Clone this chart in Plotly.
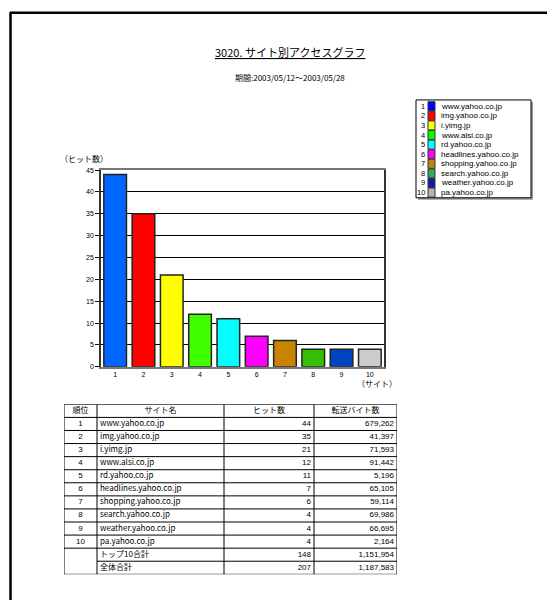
import plotly.graph_objects as go

# ---------------- data ----------------
ranks = ["1", "2", "3", "4", "5", "6", "7", "8", "9", "10"]
sites = ["www.yahoo.co.jp", "img.yahoo.co.jp", "i.yimg.jp", "www.alsi.co.jp",
         "rd.yahoo.co.jp", "headlines.yahoo.co.jp", "shopping.yahoo.co.jp",
         "search.yahoo.co.jp", "weather.yahoo.co.jp", "pa.yahoo.co.jp"]
hits = [44, 35, 21, 12, 11, 7, 6, 4, 4, 4]
bytes_sent = [679262, 41397, 71593, 91442, 5196, 65105, 59114, 69986, 66695, 2164]
total_labels = ["トップ10合計", "全体合計"]
total_hits = [148, 207]
total_bytes = [1151954, 1187583]
table_headers = ["順位", "サイト名", "ヒット数", "転送バイト数"]
y_ticks = [0, 5, 10, 15, 20, 25, 30, 35, 40, 45]

bar_colors = ["#0066FF", "#FF0000", "#FFFF00", "#40FF00", "#00FFFF",
              "#FF00FF", "#C88400", "#33C000", "#0044C0", "#CCCCCC"]
legend_colors = ["#0000FF", "#FF0000", "#FFFF00", "#00FF00", "#00FFFF",
                 "#FF00FF", "#B8860B", "#33AA55", "#1A1AAA", "#B4B4B4"]

# page is drawn inside the browser's default 8px body margin
OFF = 8
W, H = 555 - OFF, 603 - OFF
def px(x):
    return (x - OFF) / W
def py(y):
    return 1 - (y - OFF) / H

FONT = "Noto Sans CJK JP"
NUMFONT = "Liberation Sans"

fig = go.Figure()

# ---------------- bar chart ----------------
fig.add_trace(go.Bar(
    x=ranks, y=hits,
    marker=dict(color=bar_colors, line=dict(color="#222222", width=1.5)),
    showlegend=False, hoverinfo="x+y",
))

# ---------------- table (on its own axes) ----------------
col_w = [33, 127, 90, 83]
col_edges = [0]
for w in col_w:
    col_edges.append(col_edges[-1] + w)
n_rows = 1 + len(sites) + len(total_labels)

col_rank = ranks + ["", ""]
col_name = sites + total_labels
col_hits = [f"{v:,}" for v in hits + total_hits]
col_bytes = [f"{v:,}" for v in bytes_sent + total_bytes]
row_y = [i + 1.5 for i in range(len(col_name))]

# header
fig.add_trace(go.Scatter(
    x=[(col_edges[i] + col_edges[i + 1]) / 2 for i in range(4)],
    y=[0.5] * 4, text=table_headers, mode="text",
    textposition="middle center",
    textfont=dict(family=FONT, size=8, color="black"),
    xaxis="x2", yaxis="y2", showlegend=False, hoverinfo="skip"))
# rank column
fig.add_trace(go.Scatter(
    x=[(col_edges[0] + col_edges[1]) / 2] * len(col_rank), y=row_y,
    text=col_rank, mode="text", textposition="middle center",
    textfont=dict(family=NUMFONT, size=8, color="black"),
    xaxis="x2", yaxis="y2", showlegend=False, hoverinfo="skip"))
# name column
fig.add_trace(go.Scatter(
    x=[col_edges[1] + 3] * len(col_name), y=row_y,
    text=col_name, mode="text", textposition="middle right",
    textfont=dict(family=FONT, size=8, color="black"),
    xaxis="x2", yaxis="y2", showlegend=False, hoverinfo="skip"))
# hits column
fig.add_trace(go.Scatter(
    x=[col_edges[3] - 3] * len(col_hits), y=row_y,
    text=col_hits, mode="text", textposition="middle left",
    textfont=dict(family=NUMFONT, size=8, color="black"),
    xaxis="x2", yaxis="y2", showlegend=False, hoverinfo="skip"))
# bytes column
fig.add_trace(go.Scatter(
    x=[col_edges[4] - 3] * len(col_bytes), y=row_y,
    text=col_bytes, mode="text", textposition="middle left",
    textfont=dict(family=NUMFONT, size=8, color="black"),
    xaxis="x2", yaxis="y2", showlegend=False, hoverinfo="skip"))

shapes = []
annotations = []

# table grid lines
for r in range(n_rows + 1):
    x_start = col_edges[1] if r == n_rows - 1 else col_edges[0]
    shapes.append(dict(type="line", xref="x2", yref="y2",
                       x0=x_start, x1=col_edges[-1], y0=r, y1=r,
                       line=dict(color="black", width=1)))
for e in col_edges:
    shapes.append(dict(type="line", xref="x2", yref="y2",
                       x0=e, x1=e, y0=0, y1=n_rows,
                       line=dict(color="black", width=1)))

# page border (top and left)
shapes.append(dict(type="line", xref="paper", yref="paper",
                   x0=px(10), x1=1, y0=py(8.8), y1=py(8.8),
                   line=dict(color="black", width=2.5)))
shapes.append(dict(type="line", xref="paper", yref="paper",
                   x0=px(10.5), x1=px(10.5), y0=py(8), y1=0,
                   line=dict(color="black", width=2.5)))

# title
annotations.append(dict(text="<u>3020. サイト別アクセスグラフ</u>",
                        x=px(290), y=py(48), xref="paper", yref="paper",
                        showarrow=False, xanchor="center", yanchor="middle",
                        font=dict(family=FONT, size=11, color="black")))
annotations.append(dict(text="期間:2003/05/12～2003/05/28",
                        x=px(290), y=py(74), xref="paper", yref="paper",
                        showarrow=False, xanchor="center", yanchor="middle",
                        font=dict(family=FONT, size=8, color="black")))

# axis titles
annotations.append(dict(text="（ヒット数）", x=px(84), y=py(156),
                        xref="paper", yref="paper", showarrow=False,
                        xanchor="center", yanchor="middle",
                        font=dict(family=FONT, size=8, color="black")))
annotations.append(dict(text="（サイト）", x=px(377), y=py(384),
                        xref="paper", yref="paper", showarrow=False,
                        xanchor="center", yanchor="middle",
                        font=dict(family=FONT, size=8, color="black")))

# legend box
lx0, lx1, ly0, ly1 = 416, 531, 97, 196
shapes.append(dict(type="rect", xref="paper", yref="paper",
                   x0=px(lx0 + 2), x1=px(lx1 + 2), y0=py(ly0 + 2), y1=py(ly1 + 2),
                   fillcolor="#999999", line=dict(width=0)))
shapes.append(dict(type="rect", xref="paper", yref="paper",
                   x0=px(lx0), x1=px(lx1), y0=py(ly0), y1=py(ly1),
                   fillcolor="white", line=dict(color="black", width=1)))
pitch = 9.7
for i, (r, s, c) in enumerate(zip(ranks, sites, legend_colors)):
    yc = 103.4 + i * pitch
    shapes.append(dict(type="rect", xref="paper", yref="paper",
                       x0=px(428), x1=px(435), y0=py(yc - 4.6), y1=py(yc + 4.6),
                       fillcolor=c, line=dict(color="#333333", width=1)))
    annotations.append(dict(text=r, x=px(426.5), y=py(yc), xref="paper", yref="paper",
                            showarrow=False, xanchor="right", yanchor="middle",
                            font=dict(family=NUMFONT, size=7.5, color="black")))
    annotations.append(dict(text=s, x=px(438.5), y=py(yc), xref="paper", yref="paper",
                            showarrow=False, xanchor="left", yanchor="middle",
                            font=dict(family=NUMFONT, size=8, color="black")))

fig.update_layout(
    width=W, height=H,
    margin=dict(l=0, r=0, t=0, b=0),
    paper_bgcolor="white", plot_bgcolor="white",
    bargap=0.2,
    shapes=shapes, annotations=annotations,
    xaxis=dict(domain=[px(101), px(384)], type="category",
               showline=True, mirror=True, linecolor="#777777", linewidth=2,
               ticks="", showgrid=False, zeroline=False,
               tickfont=dict(family=NUMFONT, size=7, color="black")),
    yaxis=dict(domain=[py(367), py(168)], range=[0, 45],
               tickvals=y_ticks,
               showline=True, mirror=True, linecolor="#333333", linewidth=1.5,
               ticks="outside", ticklen=4, tickcolor="black",
               showgrid=True, gridcolor="black", gridwidth=1, zeroline=False,
               tickfont=dict(family=NUMFONT, size=7, color="black")),
    xaxis2=dict(domain=[px(64), px(397)], range=[col_edges[0], col_edges[-1]],
                visible=False, anchor="y2"),
    yaxis2=dict(domain=[py(577), py(405)], range=[n_rows, 0],
                visible=False, anchor="x2"),
)

fig.write_html("out.html")
